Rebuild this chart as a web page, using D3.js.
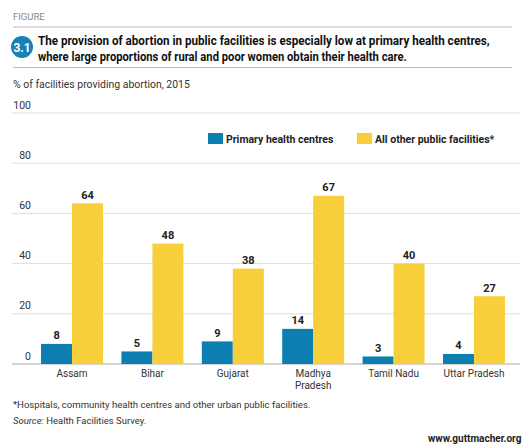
<!DOCTYPE html>
<html>
<head>
<meta charset="utf-8">
<script src="https://cdn.jsdelivr.net/npm/d3@7"></script>
<style>
  body { margin: 0; background: #fff; }
  svg { font-family: "Roboto", "Liberation Sans", sans-serif; }
</style>
</head>
<body>
<div id="chart"></div>
<script>
// chart data
const states = ['Assam', 'Bihar', 'Gujarat', 'Madhya Pradesh', 'Tamil Nadu', 'Uttar Pradesh'];
const primary = [8, 5, 9, 14, 3, 4];
const otherPublic = [64, 48, 38, 67, 40, 27];
const seriesNames = ['Primary health centres', 'All other public facilities*'];
const yTicks = [0, 20, 40, 60, 80, 100];

const width = 526, height = 444;
const blue = '#0c7fb0', yellow = '#f6cf3b';

const svg = d3.select('#chart').append('svg')
    .attr('width', width)
    .attr('height', height);

// squeeze a text horizontally so it spans the given width
function fitText(x, yPos, w, str, size, weight, fill) {
    const g = svg.append('g');
    const t = g.append('text')
        .attr('font-size', size).attr('font-weight', weight).attr('fill', fill)
        .text(str);
    const natural = t.node().getComputedTextLength();
    g.attr('transform', `translate(${x},${yPos}) scale(${w / natural},1)`);
    return t;
}

// header
svg.append('text').attr('x', 13).attr('y', 20)
    .attr('font-size', 9.5).attr('fill', '#888').text('FIGURE');
svg.append('line').attr('x1', 13).attr('x2', 512).attr('y1', 27).attr('y2', 27)
    .attr('stroke', '#bbb');
svg.append('circle').attr('cx', 22).attr('cy', 47).attr('r', 11).attr('fill', '#1a80b6');
svg.append('text').attr('x', 22).attr('y', 51.5).attr('text-anchor', 'middle')
    .attr('font-size', 12).attr('font-weight', 'bold').attr('fill', '#fff').text('3.1');
fitText(38, 45, 452, 'The provision of abortion in public facilities is especially low at primary health centres,', 13.5, 'bold', '#111');
fitText(38, 61, 369, 'where large proportions of rural and poor women obtain their health care.', 13.5, 'bold', '#111');
svg.append('line').attr('x1', 13).attr('x2', 512).attr('y1', 67.5).attr('y2', 67.5)
    .attr('stroke', '#bbb');
fitText(13, 88, 177, '% of facilities providing abortion, 2015', 10.5, 'normal', '#333');

// scales
const y = d3.scaleLinear().domain([0, 100]).range([364, 113]);
const x = d3.scaleBand().domain(states).range([31, 515]).paddingInner(0.229).paddingOuter(0.125);
const xSub = d3.scaleBand().domain([0, 1]).range([0, x.bandwidth()]);

// gridlines and y labels
const grid = svg.append('g');
grid.selectAll('line').data(yTicks).join('line')
    .attr('x1', 12).attr('x2', 520)
    .attr('y1', d => y(d)).attr('y2', d => y(d))
    .attr('stroke', d => d === 0 ? '#aaa' : '#ddd')
    .attr('stroke-width', d => d === 0 ? 1.2 : 1);
grid.selectAll('text').data(yTicks).join('text')
    .attr('x', 31).attr('y', d => y(d) - 4.5)
    .attr('text-anchor', 'end')
    .attr('font-size', 10.5).attr('fill', '#333')
    .text(d => d);

// bars
const rows = states.map((s, i) => ({ state: s, values: [primary[i], otherPublic[i]] }));
const groups = svg.append('g').selectAll('g').data(rows).join('g')
    .attr('transform', d => `translate(${x(d.state)},0)`);
groups.selectAll('rect').data(d => d.values).join('rect')
    .attr('x', (d, i) => xSub(i))
    .attr('width', xSub.bandwidth())
    .attr('y', d => y(d))
    .attr('height', d => y(0) - y(d))
    .attr('fill', (d, i) => i === 0 ? blue : yellow);
groups.selectAll('text').data(d => d.values).join('text')
    .attr('x', (d, i) => xSub(i) + xSub.bandwidth() / 2)
    .attr('y', d => y(d) - 4.5)
    .attr('text-anchor', 'middle')
    .attr('font-size', 11).attr('font-weight', 'bold').attr('fill', '#222')
    .text(d => d);

// category labels (Madhya Pradesh wraps onto two lines)
const labelLines = states.map(s => s === 'Madhya Pradesh' ? ['Madhya', 'Pradesh'] : [s]);
states.forEach((s, i) => {
    labelLines[i].forEach((line, j) => {
        svg.append('text')
            .attr('x', x(s) + x.bandwidth() / 2)
            .attr('y', 377 + j * 11.5)
            .attr('text-anchor', 'middle')
            .attr('font-size', 10).attr('fill', '#333')
            .text(line);
    });
});

// legend
const legend = svg.append('g');
const legendX = [208, 357];
seriesNames.forEach((name, i) => {
    legend.append('rect').attr('x', legendX[i]).attr('y', 133)
        .attr('width', 15).attr('height', 11)
        .attr('fill', i === 0 ? blue : yellow);
    legend.append('text').attr('x', legendX[i] + 18).attr('y', 142.5)
        .attr('font-size', 10.5).attr('font-weight', 'bold').attr('fill', '#222')
        .text(name);
});

// footnotes
fitText(13, 408, 298, '*Hospitals, community health centres and other urban public facilities.', 9.5, 'normal', '#333');
const src = svg.append('text').attr('x', 13).attr('y', 424)
    .attr('font-size', 9.5).attr('fill', '#333');
src.append('tspan').attr('font-style', 'italic').text('Source:');
src.append('tspan').text(' Health Facilities Survey.');
svg.append('text').attr('x', 428).attr('y', 442)
    .attr('font-size', 10).attr('font-weight', 'bold').attr('fill', '#222')
    .text('www.guttmacher.org');
</script>
</body>
</html>
